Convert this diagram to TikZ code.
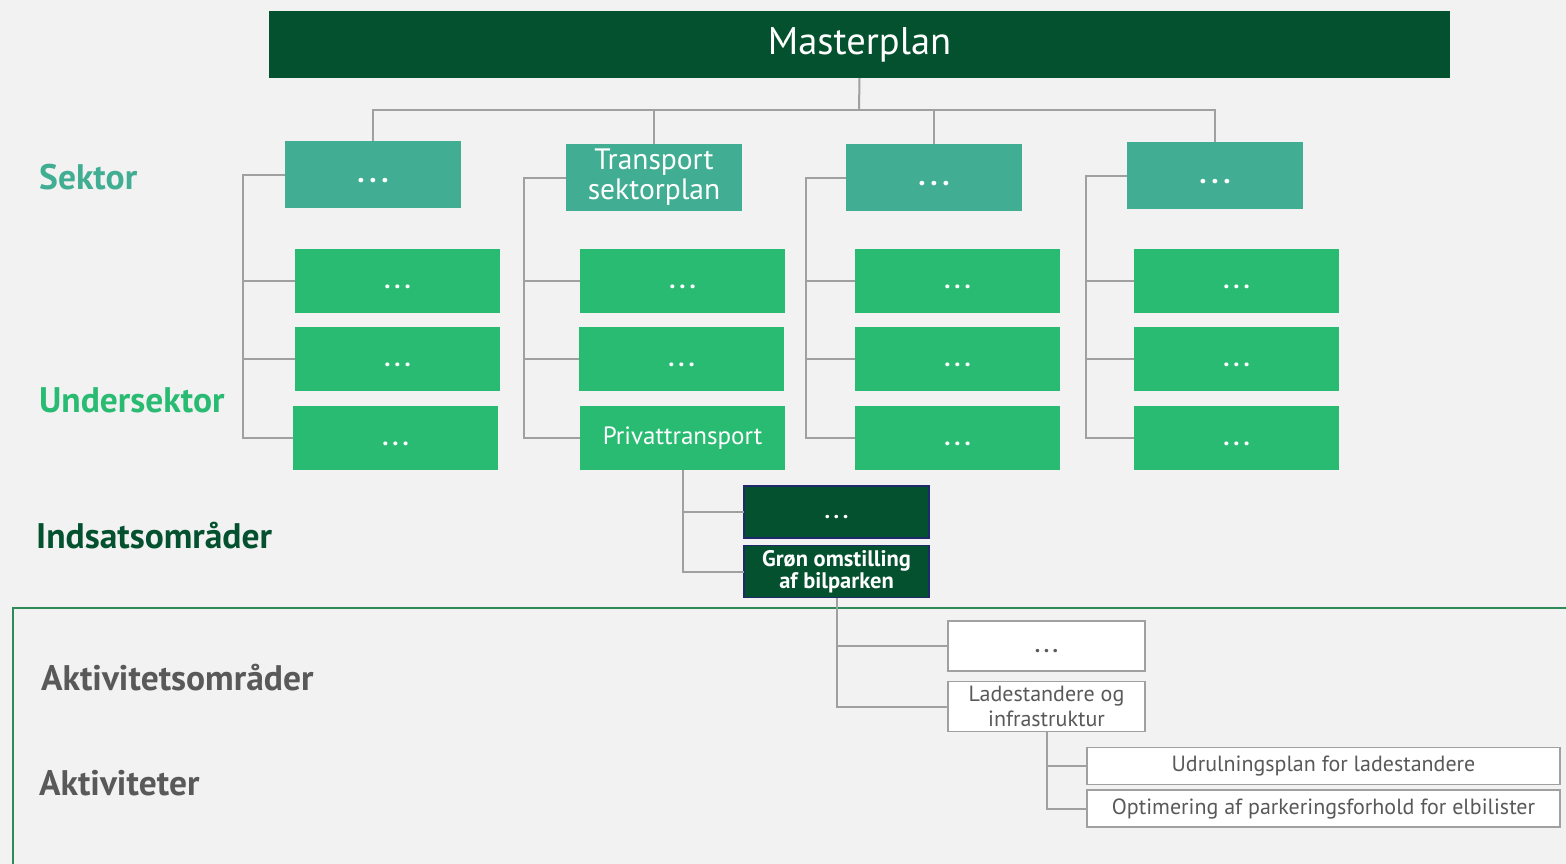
\documentclass[tikz,border=0pt]{standalone}
\usepackage{fontspec}
\setmainfont{PT Sans}
\definecolor{darkgrn}{HTML}{04512F}
\definecolor{sektorgrn}{HTML}{41AE93}
\definecolor{undergrn}{HTML}{2ABB73}
\definecolor{framegrn}{HTML}{2E8B57}
\definecolor{linegray}{HTML}{A0A0A0}
\definecolor{txtgray}{HTML}{595959}
\definecolor{bggray}{HTML}{F2F2F2}
\definecolor{navyline}{HTML}{1F2A6B}
\newcommand\lowstrut{\rule[-0.1\baselineskip]{0pt}{0.75\baselineskip}}
\newcommand\ddd{\lowstrut\textbf{.\kern0.16em.\kern0.16em.}}

\begin{document}
\begin{tikzpicture}[x=1pt,y=-1pt,
  box/.style={rectangle, inner sep=0pt, outer sep=0pt, align=center, text=white},
  sektorbox/.style={box, fill=sektorgrn, minimum width=176pt, minimum height=67pt, font=\fontsize{29.5}{30}\selectfont},
  underbox/.style={box, fill=undergrn, minimum width=205pt, minimum height=64pt, font=\fontsize{25}{26}\selectfont},
  indsatsbox/.style={box, fill=darkgrn, draw=navyline, line width=1.2pt, minimum width=185pt, minimum height=52pt, font=\bfseries\fontsize{22.5}{22.5}\selectfont},
  aktbox/.style={box, fill=white, draw=linegray, line width=1.5pt, text=txtgray, minimum width=197pt, minimum height=50pt, font=\fontsize{22}{25}\selectfont},
  akttxt/.style={aktbox, minimum width=473pt, minimum height=37pt},
  conn/.style={draw=linegray, line width=2pt},
  lvl/.style={anchor=west, inner sep=0pt, font=\bfseries\fontsize{35.5}{36}\selectfont}]
\fill[bggray] (0,0) rectangle (1566,864);
\useasboundingbox (0,0) rectangle (1566,864);
\draw[framegrn, line width=2pt] (1570,608) -- (13,608) -- (13,870);

\node[box, fill=darkgrn, minimum width=1181pt, minimum height=67pt, font=\fontsize{38.5}{40}\selectfont] (master) at (859.5,44.5) {\lowstrut Masterplan};

\node[sektorbox] (s1) at (373,174.5) {\ddd};
\node[sektorbox] (s2) at (654,177.5) {Transport\\sektorplan};
\node[sektorbox] (s3) at (934,177.5) {\ddd};
\node[sektorbox] (s4) at (1215,175.5) {\ddd};

\node[underbox] (u11) at (397.5,281) {\ddd};
\node[underbox] (u12) at (397.5,359) {\ddd};
\node[underbox] (u13) at (395.5,438) {\ddd};
\node[underbox] (u21) at (682.5,281) {\ddd};
\node[underbox] (u22) at (681.5,359) {\ddd};
\node[underbox] (u23) at (682.5,438) {\lowstrut Privattransport};
\node[underbox] (u31) at (957.5,281) {\ddd};
\node[underbox] (u32) at (957.5,359) {\ddd};
\node[underbox] (u33) at (957.5,438) {\ddd};
\node[underbox] (u41) at (1236.5,281) {\ddd};
\node[underbox] (u42) at (1236.5,359) {\ddd};
\node[underbox] (u43) at (1236.5,438) {\ddd};

\node[indsatsbox] (i1) at (836.5,512) {\ddd};
\node[indsatsbox] (i2) at (836.5,571.5) {Grøn omstilling\\af bilparken};

\node[aktbox] (a1) at (1046.5,646) {\ddd};
\node[aktbox] (a2) at (1046.5,706.5) {Ladestandere og\\infrastruktur};

\node[akttxt] (b1) at (1323.5,766) {\lowstrut Udrulningsplan for ladestandere};
\node[akttxt] (b2) at (1323.5,808.5) {\lowstrut Optimering af parkeringsforhold for elbilister};

\node[lvl, text=sektorgrn] (lsektor) at (39,177) {Sektor};
\node[lvl, text=undergrn] (lunder) at (39,400) {Undersektor};
\node[lvl, text=darkgrn] (lindsats) at (36,536) {Indsatsområder};
\node[lvl, text=txtgray] (laktomr) at (41,678) {Aktivitetsområder};
\node[lvl, text=txtgray] (lakt) at (39,783) {Aktiviteter};

\coordinate (bus) at (859,110);
\draw[conn] (master.south) -- (bus);
\foreach \s in {s1,s2,s3,s4}
  \draw[conn] (\s.north) |- (bus);

\foreach \c/\x in {1/243,2/524,3/806,4/1086} {
  \coordinate (t\c) at (\x,0);
  \draw[conn] (s\c.west) -| (t\c |- u\c3.west) -- (u\c3.west);
  \draw[conn] (u\c1.west) -- (t\c |- u\c1.west);
  \draw[conn] (u\c2.west) -- (t\c |- u\c2.west);
}

\draw[conn] (u23.south) |- (i2.west);
\draw[conn] (i1.west) -- (u23.south |- i1.west);
\draw[conn] (i2.south) |- (a2.west);
\draw[conn] (a1.west) -- (i2.south |- a1.west);
\draw[conn] (a2.south) |- (b2.west);
\draw[conn] (b1.west) -- (a2.south |- b1.west);
\end{tikzpicture}
\end{document}
